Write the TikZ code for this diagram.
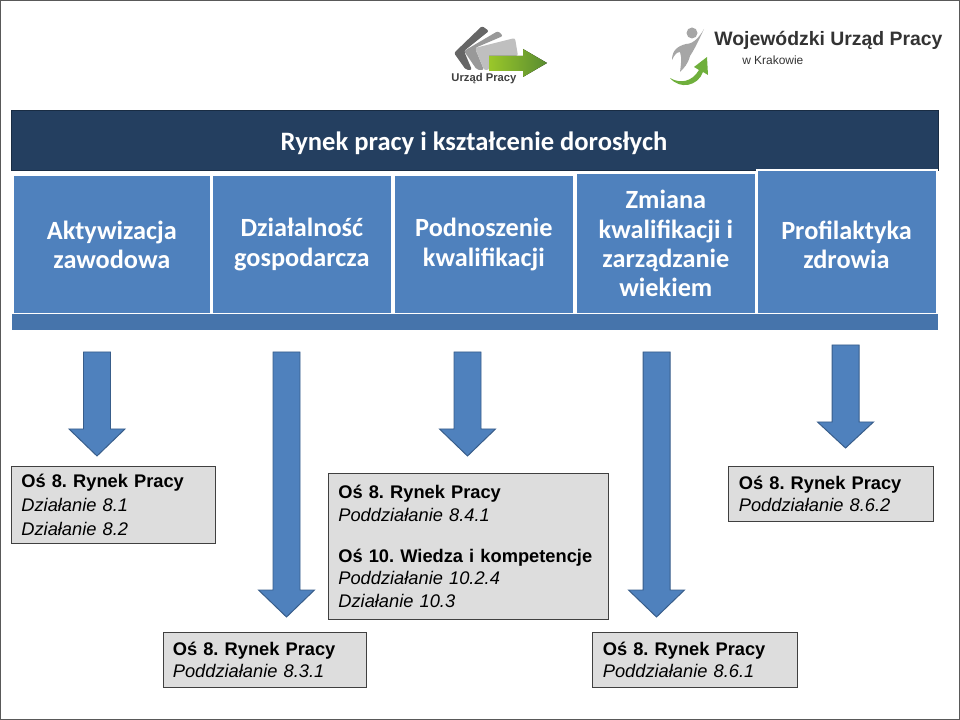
\documentclass[tikz,border=0pt]{standalone}
\usepackage{fontspec}
\setmainfont{Liberation Sans}
\newfontfamily\calibrifont{Carlito}
\usetikzlibrary{positioning}
\definecolor{headblue}{HTML}{243F60}
\definecolor{colblue}{HTML}{4F81BD}
\definecolor{stripblue}{HTML}{4674AB}
\definecolor{arrowline}{HTML}{385D8A}
\definecolor{boxgray}{HTML}{DDDDDD}
\definecolor{logogreen}{HTML}{6FAF3C}
\frenchspacing

\begin{document}
\begin{tikzpicture}[
    x=0.025cm, y=-0.025cm,
    header/.style={fill=headblue, draw=headblue!70!black, line width=0.3pt, anchor=north west,
                   minimum width=23.175cm, minimum height=1.5cm, inner sep=0pt},
    colbox/.style={fill=colblue, draw=white, line width=1.2pt, anchor=south west, inner sep=0pt,
                   align=center, text=white,
                   font=\calibrifont\fontsize{18.7}{20.9}\bfseries\selectfont},
    coltext/.style={inner sep=0pt, align=center, text=white,
                   font=\calibrifont\fontsize{18.7}{20.9}\bfseries\selectfont},
    osbox/.style={fill=boxgray, draw=black!75, line width=0.5pt, anchor=north west, inner sep=0pt,
                  align=left, font=\fontsize{13}{16.2}\selectfont},
    downarrow/.style={fill=colblue, draw=arrowline, line width=0.7pt, line join=miter}
]
\useasboundingbox (0,0) rectangle (960,720);

% Frame
\draw[black!65, line width=1pt] (0.5,0.5) rectangle (959.5,719.5);

% Logos
\fill[black!60, rounded corners=1.5pt] (454,53) -- (482,26) -- (489,31) -- (464,51) -- (472,70) -- (466,70) -- cycle;
\fill[black!40, rounded corners=1.5pt] (464,51) -- (498,31) -- (503,36) -- (475,48) -- (484,70) -- (477,70) -- cycle;
\fill[black!25, rounded corners=1.5pt] (475,48) -- (515,38) -- (518,56) -- (489,56) -- (489,70) -- (484,70) -- cycle;
\fill[left color=logogreen!70!yellow, right color=logogreen!80!black]
    (489,56) -- (523,56) -- (523,49) -- (547,63) -- (523,77) -- (523,71) -- (489,71) -- cycle;
\node[font=\fontsize{8}{10}\bfseries\selectfont, text=black!75] (logoleft) at (484,79) {Urząd Pracy};
\fill[black!35] (692,33) circle (5.5);
\fill[black!35] (704,29) .. controls (698,42) and (694,50) .. (690,56)
    .. controls (688,64) and (684,68) .. (680,72) .. controls (681,64) and (682,58) .. (680,52)
    .. controls (676,52) and (674,56) .. (672,60) .. controls (672,50) and (678,46) .. (686,44)
    .. controls (694,44) and (700,36) .. (704,29) -- cycle;
\fill[logogreen] (670,78) .. controls (680,84) and (692,82) .. (699,70) -- (694,67) -- (707,57)
    -- (708,75) -- (703,72) .. controls (698,86) and (680,90) .. (670,78) -- cycle;
\node[anchor=west, inner sep=0pt, font=\fontsize{13.8}{16}\bfseries\selectfont, text=black!80] (logoname) at (714,40) {Wojewódzki Urząd Pracy};
\node[anchor=west, inner sep=0pt, font=\fontsize{8.5}{10}\selectfont, text=black!80] (logocity) at (742,60) {w Krakowie};

% Header and columns
\node[header] (title) at (11,110) {};
\node[text=white, font=\calibrifont\fontsize{18.9}{22}\bfseries\selectfont] (titletext) at (474,143) {Rynek pracy i kształcenie dorosłych};
\node[colbox, minimum width=4.95cm, minimum height=3.475cm] (akt) at (12,315) {Aktywizacja\\zawodowa};
\node[colbox, minimum width=4.5cm, minimum height=3.475cm] (dzi) at (211,315) {Działalność\\gospodarcza};
\node[colbox, minimum width=4.5cm, minimum height=3.475cm] (pod) at (393,315) {Podnoszenie\\kwalifikacji};
\node[colbox, minimum width=4.5cm, minimum height=3.525cm] (zmi) at (575,315) {Zmiana\\kwalifikacji i\\zarządzanie\\wiekiem};
\node[colbox, minimum width=4.5cm, minimum height=3.6cm] (pro) at (756,315) {};
\node[coltext] (protext) at (846.5,245) {Profilaktyka\\zdrowia};
\fill[stripblue] (12,314) rectangle (938,330);

% Arrows
\foreach \xc/\ytop/\ybase/\ytip in {97/352/429/456, 286.5/352/590/617, 467.5/352/429/456, 656.5/352/590/617, 845.5/345/422/448} {
    \draw[downarrow] (\xc-13.5,\ytop) -- (\xc+13.5,\ytop) -- (\xc+13.5,\ybase) -- (\xc+28,\ybase)
        -- (\xc,\ytip) -- (\xc-28,\ybase) -- (\xc-13.5,\ybase) -- cycle;
}

% Boxes
\node[osbox, font=\fontsize{13}{16.8}\selectfont, minimum width=5.1cm, minimum height=1.925cm, text width=4.6cm] (os1) at (11,466)
    {\textbf{Oś 8. Rynek Pracy}\\\textit{Działanie 8.1}\\\textit{Działanie 8.2}};
\node[osbox, minimum width=7cm, minimum height=3.65cm, text width=6.5cm] (os2) at (328,473)
    {\textbf{Oś 8. Rynek Pracy}\\\textit{Poddziałanie 8.4.1}\\[4.6mm]\textbf{Oś 10. Wiedza i kompetencje}\\\textit{Poddziałanie 10.2.4}\\\textit{Działanie 10.3}};
\node[osbox, minimum width=5.125cm, minimum height=1.375cm, text width=4.6cm] (os3) at (728,466)
    {\textbf{Oś 8. Rynek Pracy}\\\textit{Poddziałanie 8.6.2}};
\node[osbox, minimum width=5.075cm, minimum height=1.375cm, text width=4.6cm] (os4) at (163,632)
    {\textbf{Oś 8. Rynek Pracy}\\\textit{Poddziałanie 8.3.1}};
\node[osbox, minimum width=5.125cm, minimum height=1.375cm, text width=4.6cm] (os5) at (592,632)
    {\textbf{Oś 8. Rynek Pracy}\\\textit{Poddziałanie 8.6.1}};
\end{tikzpicture}
\end{document}
